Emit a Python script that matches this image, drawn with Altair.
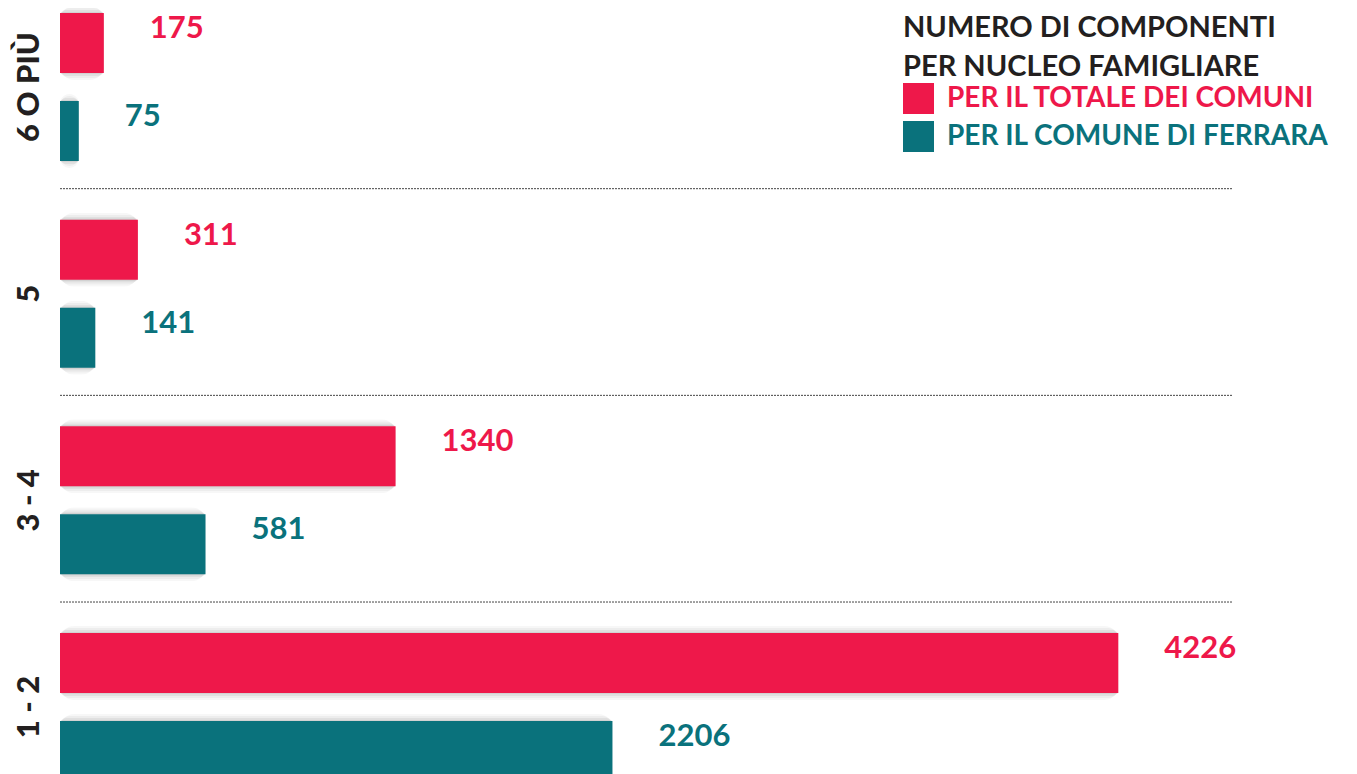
import altair as alt
import pandas as pd

categories = ["6 O PIÙ", "5", "3 - 4", "1 - 2"]
series = ["PER IL TOTALE DEI COMUNI", "PER IL COMUNE DI FERRARA"]
totale = [175, 311, 1340, 4226]
ferrara = [75, 141, 581, 2206]
colors = ["#EE184A", "#0A727C"]

rows = []
for c, t, f in zip(categories, totale, ferrara):
    rows.append({"cat": c, "serie": series[0], "val": t})
    rows.append({"cat": c, "serie": series[1], "val": f})
df = pd.DataFrame(rows)
sep = pd.DataFrame({"cat": categories[1:]})

FONT = "Lato"

y_enc = alt.Y("cat:N", sort=categories, title=None,
              scale=alt.Scale(paddingInner=0.284, paddingOuter=0),
              axis=alt.Axis(labelAngle=270, labelAlign="center", labelBaseline="alphabetic",
                            labelPadding=22, labelFontSize=31, labelFont=FONT,
                            labelFontWeight=900, labelColor="#231F20",
                            domain=False, ticks=False, grid=False))
yoff = alt.YOffset("serie:N", sort=series,
                   scale=alt.Scale(paddingInner=0.318, paddingOuter=0))
x_enc = alt.X("val:Q", scale=alt.Scale(domain=[0, 4680], nice=False, zero=True),
              axis=None, title=None)
color_scale = alt.Scale(domain=series, range=colors)

base = alt.Chart(df)

shadows = []
for s, op in [(14, 0.03), (10, 0.04), (6, 0.05), (3, 0.06)]:
    shadows.append(
        base.mark_bar(color="#000000", opacity=op, height=60 + s, x2Offset=s,
                      yOffset=-s / 2 - 1, cornerRadius=s)
        .encode(x=x_enc, y=y_enc, yOffset=yoff)
    )

bars = base.mark_bar().encode(
    x=x_enc, y=y_enc, yOffset=yoff,
    color=alt.Color("serie:N", scale=color_scale, sort=series,
                    legend=alt.Legend(
                        title=["NUMERO DI COMPONENTI", "PER NUCLEO FAMIGLIARE"],
                        orient="none", legendX=843, legendY=1,
                        titleFont=FONT, titleFontSize=29, titleFontWeight="bold",
                        titleColor="#231F20", titleLineHeight=39, titlePadding=1,
                        titleAnchor="start", titleLimit=800,
                        labelFont=FONT, labelFontSize=28, labelFontWeight="bold",
                        labelColor=alt.ExprRef(
                            "datum.label == 'PER IL TOTALE DEI COMUNI' ? '#EE184A' : '#0A727C'"),
                        labelOffset=13, labelLimit=800,
                        symbolType="square", symbolSize=961, symbolStrokeWidth=0,
                        symbolOpacity=1, rowPadding=7, padding=0)),
)

labels = base.mark_text(align="left", baseline="middle", dx=46, dy=-14,
                        font=FONT, fontSize=31, fontWeight="bold").encode(
    x=x_enc, y=y_enc, yOffset=yoff, text=alt.Text("val:Q", format="d"),
    color=alt.Color("serie:N", scale=color_scale, sort=series, legend=None),
)

rules = alt.Chart(sep).mark_rule(color="#444444", strokeWidth=1, strokeDash=[2, 1],
                                 yOffset=-31).encode(
    y=alt.Y("cat:N", sort=categories, bandPosition=0)
)

chart = alt.layer(*shadows, rules, bars, labels).properties(
    width=1172, height=768,
    background="#ffffff",
    autosize=alt.AutoSizeParams(type="none"),
    padding={"left": 52, "top": 5, "right": 117, "bottom": 0},
).configure_view(stroke=None)

chart.save("out.html", embed_options={"renderer": "svg", "actions": False})
